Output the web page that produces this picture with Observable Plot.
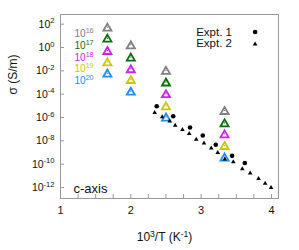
<!DOCTYPE html>
<html><head><meta charset="utf-8">
<script src="https://cdn.jsdelivr.net/npm/d3@7"></script>
<script src="https://cdn.jsdelivr.net/npm/@observablehq/plot@0.6"></script>
<style>body{margin:0;background:#fff} svg{display:block}</style>
</head><body><div id="chart"></div>
<script>
// Calculated conductivity (open triangles), one array per doping level
const invT = [1.667, 2.0, 2.5, 3.333];
const dopingExp = ["16", "17", "18", "19", "20"];
const dopingColors = ["#808080", "#0b6e0b", "#cc22ee", "#c8c800", "#1e8cff"];
const calc16 = [55, 1.7, 1.1e-2, 4.0e-6];
const calc17 = [6.3, 0.15, 1.1e-3, 3.5e-7];
const calc18 = [0.55, 1.5e-2, 1.1e-4, 4.0e-8];
const calc19 = [5.9e-2, 1.8e-3, 1.0e-5, 4.0e-9];
const calc20 = [6.3e-3, 1.8e-4, 1.1e-6, 4.0e-10];
const calcSeries = [calc16, calc17, calc18, calc19, calc20];

// Experiments
const expt1X = [2.368, 2.603, 2.842, 3.023, 3.208, 3.440, 3.621];
const expt1Sigma = [9.3e-6, 1.3e-6, 1.4e-7, 2.9e-8, 4.7e-9, 5.2e-10, 1.26e-10];
const expt2X = [2.339, 2.446, 2.553, 2.631, 2.734, 2.830, 2.930, 3.041, 3.144, 3.236, 3.336, 3.457, 3.585, 3.697, 3.816, 3.910, 3.994];
const expt2Sigma = [2.95e-6, 1.3e-6, 5.5e-7, 2.4e-7, 1.05e-7, 4.7e-8, 1.5e-8, 7.2e-9, 2.7e-9, 1.1e-9, 3.1e-10, 1.8e-10, 4.6e-11, 1.9e-11, 6.6e-12, 2.6e-12, 1.1e-12];

// Axes
const yTickExp = [2, 0, -2, -4, -6, -8, -10, -12];
const xTickValues = [1, 2, 3, 4];
const xMinorTicks = [1.25, 1.5, 1.75, 2, 2.25, 2.5, 2.75, 3, 3.25, 3.5, 3.75, 4];
const legendLabels = ["Expt. 1", "Expt. 2"];

// bbox-centred triangle symbol
const triBox = {
  draw(ctx, size) {
    const r = Math.sqrt(size / Math.PI);
    const w = r * 1.155;
    ctx.moveTo(0, -r); ctx.lineTo(w, r); ctx.lineTo(-w, r); ctx.closePath();
  }
};

const yTicks = yTickExp.map(e => Math.pow(10, e));
const marks = [
  Plot.frame({stroke: "#999"}),
  Plot.axisX({ticks: xTickValues, tickSize: 0, tickPadding: 8, fontSize: 11, label: null, tickFormat: d3.format("d")}),
  Plot.axisX({ticks: xMinorTicks, tickSize: 4, dy: -4, tickFormat: () => "", stroke: "#999", label: null}),
  Plot.axisY({ticks: yTicks, tickSize: 0, tickPadding: 6, fontSize: 10.5, label: null,
    tickFormat: d => "10^{" + Math.round(Math.log10(d)) + "}"}),
  Plot.axisY({ticks: yTicks, tickSize: 4, dx: 4, tickFormat: () => "", stroke: "#999", label: null}),
];

calcSeries.forEach((vals, i) => {
  const rows = vals.map((s, j) => ({x: invT[j], s}));
  marks.push(Plot.dot(rows, {x: "x", y: "s", symbol: triBox, r: 3.5, stroke: dopingColors[i], fill: "none", strokeWidth: 1.8}));
  marks.push(Plot.dot(rows, {x: "x", y: "s", r: 0.7, fill: dopingColors[i], stroke: "none"}));
  marks.push(Plot.text(["10^{" + dopingExp[i] + "}"], {text: d => d, frameAnchor: "top-left", textAnchor: "start", lineAnchor: "middle",
    dx: 14, dy: 19.5 + i * 11.7, fill: dopingColors[i], fontSize: 10}));
});

marks.push(Plot.dot(expt1X.map((x, i) => ({x, s: expt1Sigma[i]})), {x: "x", y: "s", r: 2.3, fill: "black"}));
marks.push(Plot.dot(expt2X.map((x, i) => ({x, s: expt2Sigma[i]})), {x: "x", y: "s", symbol: triBox, r: 2.0, fill: "black"}));

// legend
marks.push(Plot.text([legendLabels[0]], {text: d => d, frameAnchor: "top-right", textAnchor: "end", lineAnchor: "middle", dx: -46.5, dy: 17.5, fontSize: 11.5}));
marks.push(Plot.text([legendLabels[1]], {text: d => d, frameAnchor: "top-right", textAnchor: "end", lineAnchor: "middle", dx: -46.5, dy: 29, fontSize: 11.5}));
marks.push(Plot.dot([0], {frameAnchor: "top-right", dx: -23.4, dy: 17.5, r: 2.3, fill: "black"}));
marks.push(Plot.dot([0], {frameAnchor: "top-right", dx: -23.4, dy: 29, symbol: triBox, r: 2.0, fill: "black"}));

// annotations and axis labels
marks.push(Plot.text(["c-axis"], {text: d => d, frameAnchor: "bottom-left", textAnchor: "start", lineAnchor: "middle", dx: 13, dy: -10, fontSize: 13}));
marks.push(Plot.text(["10^{3}/T (K^{-1})"], {text: d => d, frameAnchor: "bottom", lineAnchor: "middle", dx: -5, dy: 39, fontSize: 12}));
marks.push(Plot.text(["σ (S/m)"], {text: d => d, frameAnchor: "left", lineAnchor: "middle", rotate: -90, dx: -47, dy: -12, fontSize: 12}));

const chart = Plot.plot({
  width: 299, height: 250,
  marginLeft: 60, marginRight: 21, marginTop: 14, marginBottom: 52,
  style: {fontFamily: "'Liberation Sans', Arial, sans-serif", color: "#111", background: "white"},
  x: {domain: [1, 4.1], axis: null},
  y: {type: "log", domain: [1.15e-13, 6.7e2], axis: null},
  marks
});

const NS = "http://www.w3.org/2000/svg";
chart.querySelectorAll("text").forEach(t => {
  const s = t.textContent;
  if (!s.includes("^{") || t.children.length) return;
  t.textContent = "";
  const parts = s.split(/\^\{([^}]*)\}/);
  let afterSup = false;
  parts.forEach((p, i) => {
    if (!p) return;
    const ts = document.createElementNS(NS, "tspan");
    ts.textContent = p;
    if (i % 2) { ts.setAttribute("font-size", "0.72em"); ts.setAttribute("dy", "-0.55em"); afterSup = true; }
    else if (afterSup) { ts.setAttribute("dy", "0.396em"); afterSup = false; }
    t.appendChild(ts);
  });
});
document.getElementById("chart").appendChild(chart);
</script>
</body></html>
